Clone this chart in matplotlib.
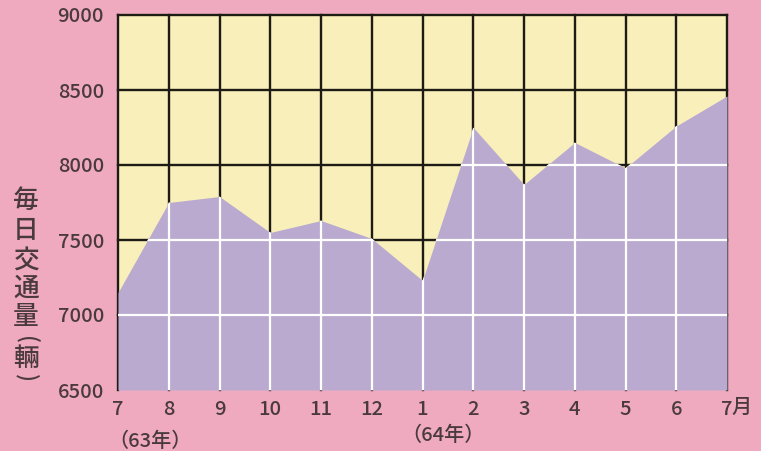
import matplotlib
matplotlib.use("Agg")
import matplotlib.pyplot as plt
import numpy as np

plt.rcParams['font.family'] = ['Noto Sans CJK JP', 'DejaVu Sans']

# Monthly average daily traffic, July 63 to July 64
months = ["7", "8", "9", "10", "11", "12", "1", "2", "3", "4", "5", "6", "7"]
traffic = [7150, 7750, 7790, 7550, 7630, 7510, 7230, 8250, 7870, 8150, 7980, 8260, 8460]
y_ticks = [6500, 7000, 7500, 8000, 8500, 9000]
year_labels = ["（63年）", "（64年）"]
ylabel_chars = ["毎", "日", "交", "通", "量", "(", "輛", ")"]

PINK = "#efaac0"
YELLOW = "#f8efba"
PURPLE = "#baaacf"
TEXT = "#4a3a3e"
BLACK = "#1e1a14"
FW = "medium"

fig = plt.figure(figsize=(7.61, 4.51), dpi=100)
fig.patch.set_facecolor(PINK)
ax = fig.add_axes([118 / 761, 1 - 390 / 451, (727 - 118) / 761, (390 - 15) / 451])
ax.set_facecolor(YELLOW)

x = np.arange(len(months))
ax.set_xlim(0, len(months) - 1)
ax.set_ylim(y_ticks[0], y_ticks[-1])

# black grid over the upper (unfilled) part
for yv in y_ticks[1:]:
    ax.plot([0, len(months) - 1], [yv, yv], color=BLACK, lw=1.7, zorder=1,
            clip_on=False, solid_capstyle="projecting")
for xv in x:
    ax.plot([xv, xv], [y_ticks[0], y_ticks[-1]], color=BLACK, lw=1.7, zorder=1,
            clip_on=False, solid_capstyle="projecting")

# traffic area
area = ax.fill_between(x, y_ticks[0], traffic, color=PURPLE, lw=0, zorder=2)
clip_path = area.get_paths()[0]

# white grid inside the area
for yv in y_ticks[1:-1]:
    ln, = ax.plot([0, len(months) - 1], [yv, yv], color="white", lw=1.6, zorder=3)
    ln.set_clip_path(clip_path, ax.transData)
for xv in x[1:-1]:
    ln, = ax.plot([xv, xv], [y_ticks[0], y_ticks[-1]], color="white", lw=1.6, zorder=3)
    ln.set_clip_path(clip_path, ax.transData)

for s in ax.spines.values():
    s.set_visible(False)

ax.set_yticks(y_ticks)
ax.set_yticklabels([str(v) for v in y_ticks], fontsize=14.5, color=TEXT, fontweight=FW)
ax.set_xticks(x)
ax.set_xticklabels(months, fontsize=14.5, color=TEXT, fontweight=FW)
ax.tick_params(axis="y", length=0, pad=10)
ax.tick_params(axis="x", length=0, pad=7)

# month unit after the last tick
fig.text(742 / 761, 1 - 407 / 451, "月", fontsize=14.5, color=TEXT,
         ha="center", va="center", fontweight=FW)

# year markers under July 63 and January 64
fig.text(150 / 761, 1 - 441 / 451, year_labels[0], fontsize=14.5, color=TEXT,
         ha="center", va="center", fontweight=FW)
fig.text(443 / 761, 1 - 435 / 451, year_labels[1], fontsize=14.5, color=TEXT,
         ha="center", va="center", fontweight=FW)

# vertical axis title, one character per row (brackets turned for vertical setting)
ys = [200, 231, 260, 288, 317, 340, 358, 378]
for ch, yy in zip(ylabel_chars, ys):
    rot = -90 if ch in "()" else 0
    fig.text(26 / 761, 1 - yy / 451, ch, fontsize=18.5 if rot == 0 else 16,
             color=TEXT, ha="center", va="center", rotation=rot, fontweight=FW)

fig.savefig("out.png", dpi=100, facecolor=PINK)
